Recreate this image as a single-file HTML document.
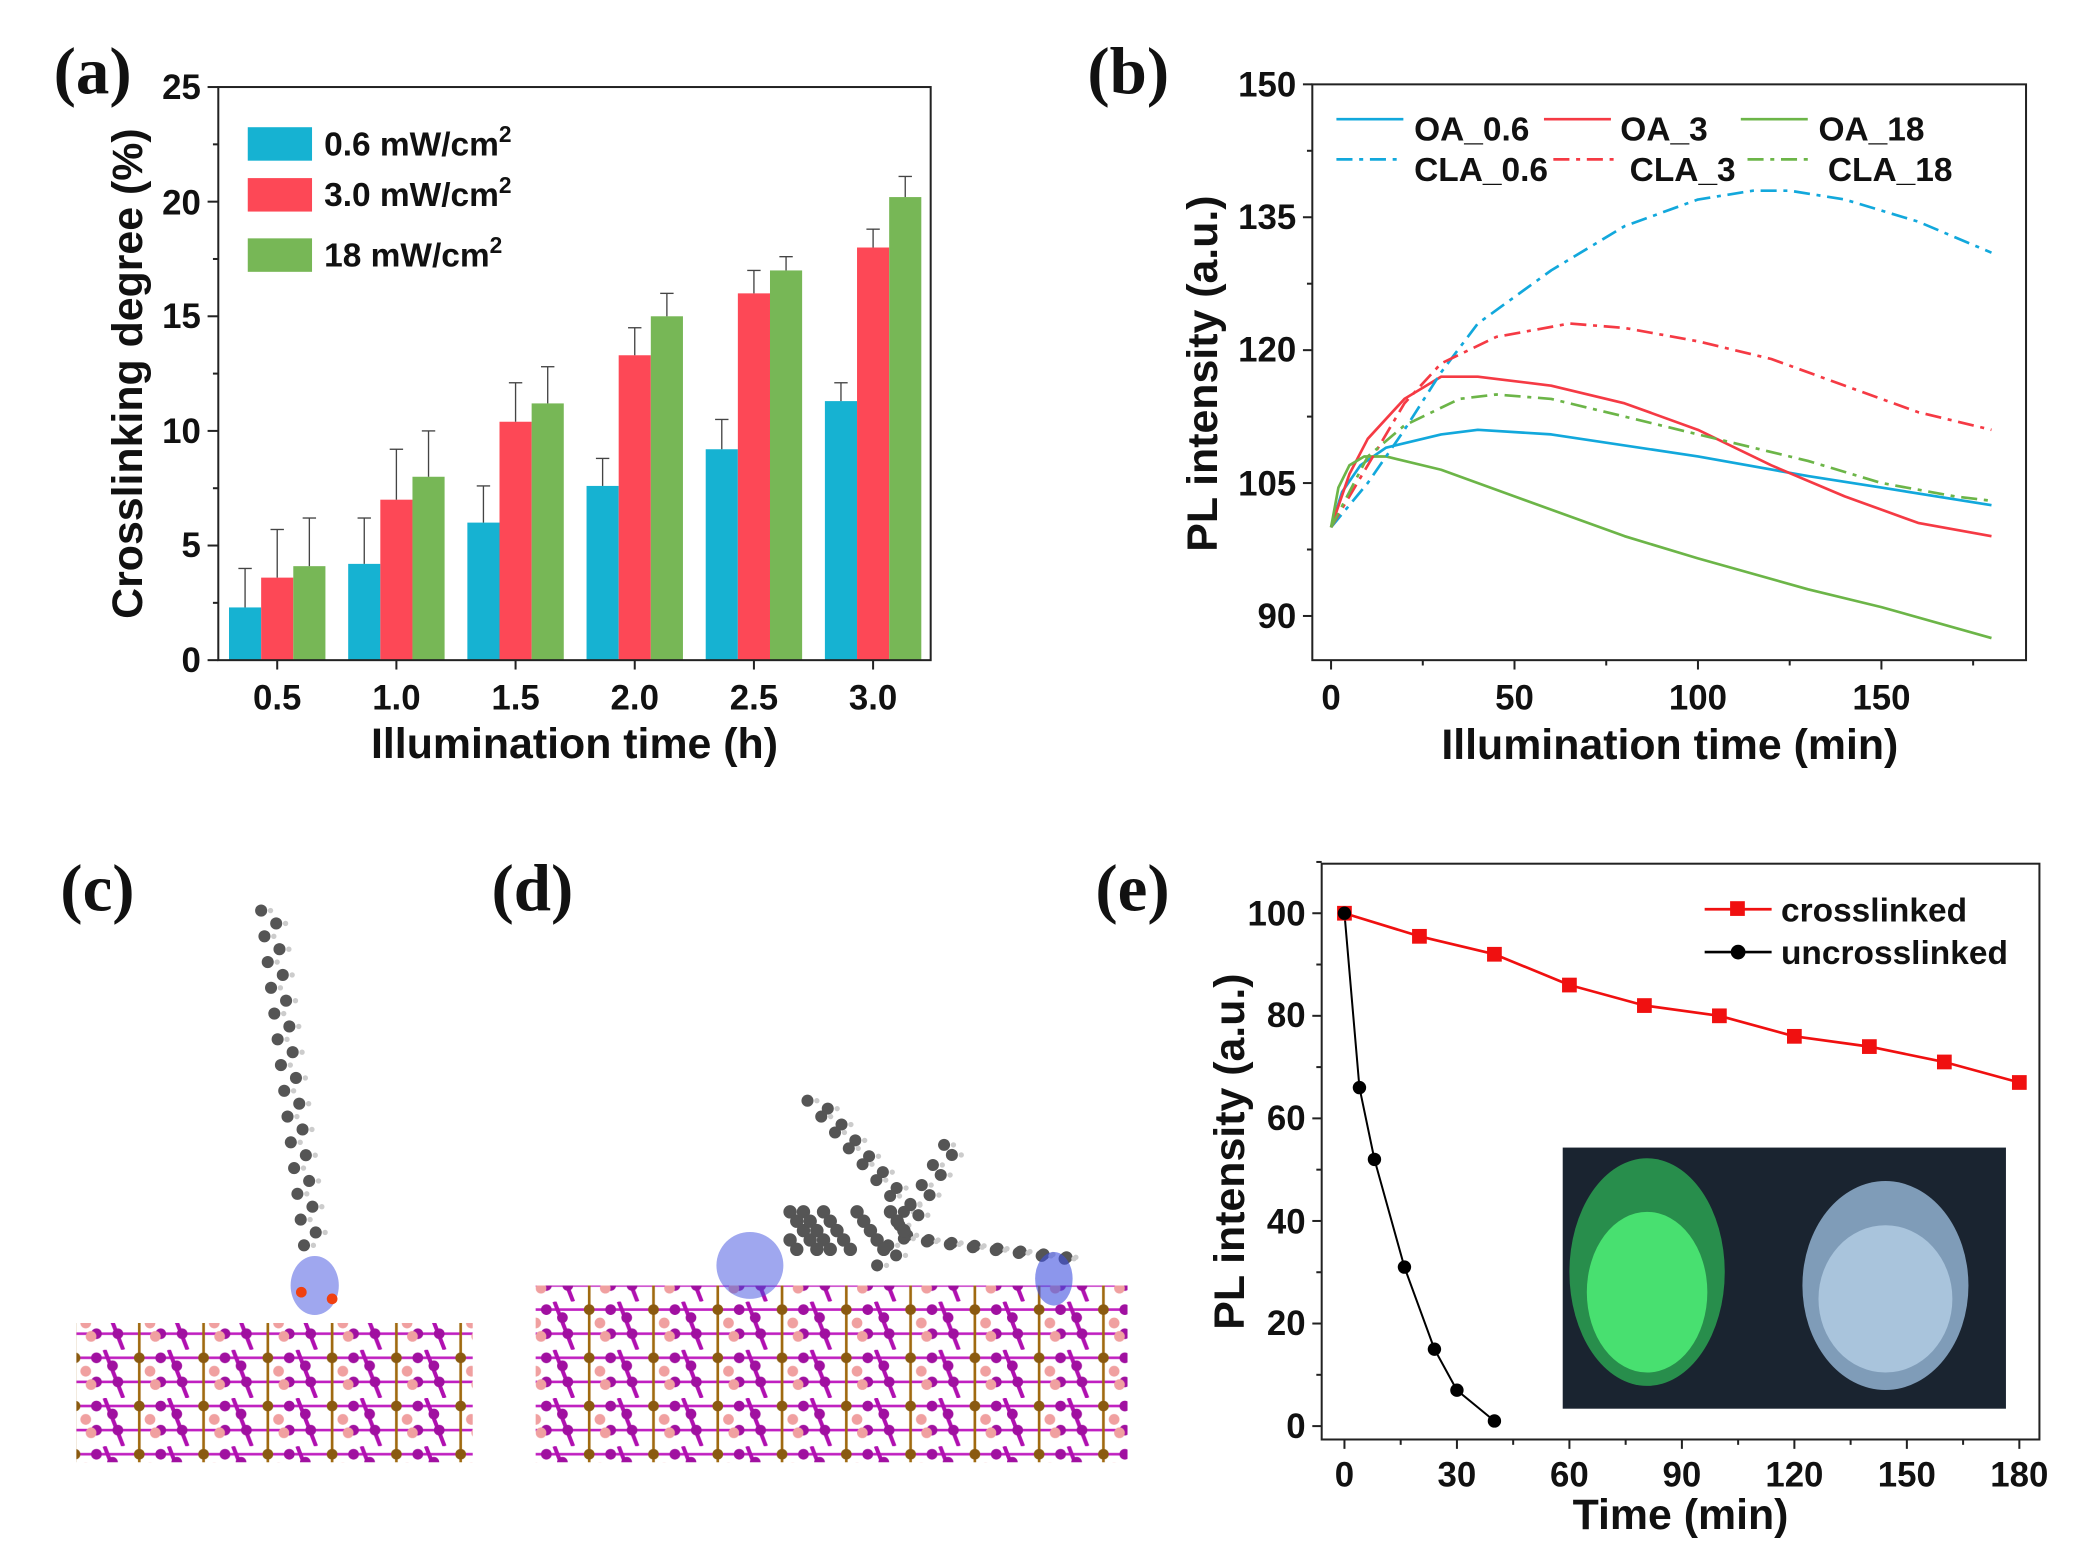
<!DOCTYPE html>
<html><head><meta charset="utf-8"><style>
html,body{margin:0;padding:0;background:#fff}
svg{display:block}
text{font-family:"Liberation Sans",Arial,sans-serif;font-weight:bold;fill:#111}
.pl{font-family:"Liberation Serif",serif;font-size:50px;font-weight:bold}
.tk{font-size:26px}
.al{font-size:32px}
.lg{font-size:25px}
</style></head><body>
<svg id="s" width="2089" height="1558" viewBox="0 0 1560 1163.5" xmlns="http://www.w3.org/2000/svg">
<defs>
<pattern id="lat" x="0" y="0" width="48" height="36" patternUnits="userSpaceOnUse">
<rect width="48" height="36" fill="#fff"/>
<line x1="0" y1="6" x2="48" y2="6" stroke="#c020c0" stroke-width="2"/>
<line x1="0" y1="24" x2="48" y2="24" stroke="#c020c0" stroke-width="2"/>
<line x1="8" y1="0" x2="8" y2="36" stroke="#a06a10" stroke-width="2"/>
<line x1="30" y1="0" x2="44" y2="36" stroke="#b010b0" stroke-width="3"/>
<circle cx="8" cy="6" r="4" fill="#8a5a10"/>
<circle cx="24" cy="6" r="4" fill="#a010a0"/>
<circle cx="40" cy="24" r="4" fill="#a010a0"/>
<circle cx="24" cy="24" r="4" fill="#a010a0"/>
<circle cx="16" cy="16" r="4" fill="#f0a0a0"/>
<circle cx="20" cy="26" r="4" fill="#f0a0a0"/>
<circle cx="36" cy="12" r="4" fill="#a010a0"/>
</pattern>
</defs>

<text class="pl" x="40" y="70">(a)</text>
<text class="pl" x="812" y="70">(b)</text>
<text class="pl" x="45" y="680">(c)</text>
<text class="pl" x="367" y="680">(d)</text>
<text class="pl" x="818" y="680">(e)</text>

<!-- (a) -->
<g id="ga"></g>
<rect x="163" y="65" width="532" height="428" fill="none" stroke="#222" stroke-width="1.5"/>
<g class="tk" text-anchor="end">
<text x="150" y="502">0</text><text x="150" y="416">5</text><text x="150" y="331">10</text>
<text x="150" y="245">15</text><text x="150" y="160">20</text><text x="150" y="74">25</text>
</g>
<g class="tk" text-anchor="middle">
<text x="207" y="530">0.5</text><text x="296" y="530">1.0</text><text x="385" y="530">1.5</text>
<text x="474" y="530">2.0</text><text x="563" y="530">2.5</text><text x="652" y="530">3.0</text>
</g>
<text class="al" x="429" y="566" text-anchor="middle">Illumination time (h)</text>
<text class="al" transform="translate(106,279) rotate(-90)" text-anchor="middle">Crosslinking degree (%)</text>
<rect x="185" y="95" width="48" height="25" fill="#16b2d2"/>
<rect x="185" y="133" width="48" height="25" fill="#fd4856"/>
<rect x="185" y="178" width="48" height="25" fill="#77b756"/>
<g class="lg">
<text x="242" y="116">0.6 mW/cm<tspan dy="-10" font-size="17">2</tspan></text>
<text x="242" y="154">3.0 mW/cm<tspan dy="-10" font-size="17">2</tspan></text>
<text x="242" y="199">18  mW/cm<tspan dy="-10" font-size="17">2</tspan></text>
</g>

<!-- (b) -->
<g id="gb"></g>
<rect x="980" y="63" width="533" height="430" fill="none" stroke="#222" stroke-width="1.5"/>
<g class="tk" text-anchor="end">
<text x="968" y="72">150</text><text x="968" y="171">135</text><text x="968" y="270">120</text>
<text x="968" y="370">105</text><text x="968" y="469">90</text>
</g>
<g class="tk" text-anchor="middle">
<text x="994" y="530">0</text><text x="1131" y="530">50</text><text x="1268" y="530">100</text><text x="1405" y="530">150</text>
</g>
<text class="al" x="1247" y="567" text-anchor="middle">Illumination time (min)</text>
<text class="al" transform="translate(909,279) rotate(-90)" text-anchor="middle">PL intensity (a.u.)</text>
<g class="lg">
<text x="1056" y="105">OA_0.6</text><text x="1210" y="105">OA_3</text><text x="1358" y="105">OA_18</text>
<text x="1056" y="135">CLA_0.6</text><text x="1217" y="135">CLA_3</text><text x="1365" y="135">CLA_18</text>
</g>

<!-- (e) -->
<rect x="1167" y="857" width="331" height="195" fill="#1a2430"/>
<ellipse cx="1230" cy="950" rx="58" ry="85" fill="#2a9a50" opacity="0.9"/>
<ellipse cx="1230" cy="965" rx="45" ry="60" fill="#48e070"/>
<ellipse cx="1408" cy="960" rx="62" ry="78" fill="#7f9cb8"/>
<ellipse cx="1408" cy="970" rx="50" ry="55" fill="#a9c4dc"/>
<g id="ge"></g>
<rect x="987" y="645" width="536" height="430" fill="none" stroke="#222" stroke-width="1.5"/>
<g class="tk" text-anchor="end">
<text x="975" y="1074">0</text><text x="975" y="997">20</text><text x="975" y="921">40</text>
<text x="975" y="844">60</text><text x="975" y="767">80</text><text x="975" y="691">100</text>
</g>
<g class="tk" text-anchor="middle">
<text x="1004" y="1110">0</text><text x="1088" y="1110">30</text><text x="1172" y="1110">60</text>
<text x="1256" y="1110">90</text><text x="1340" y="1110">120</text><text x="1424" y="1110">150</text><text x="1508" y="1110">180</text>
</g>
<text class="al" x="1255" y="1142" text-anchor="middle">Time (min)</text>
<text class="al" transform="translate(929,860) rotate(-90)" text-anchor="middle">PL intensity (a.u.)</text>
<line x1="1273" y1="679" x2="1323" y2="679" stroke="#f01010" stroke-width="2"/>
<rect x="1292" y="673" width="11" height="11" fill="#f01010"/>
<line x1="1273" y1="711" x2="1323" y2="711" stroke="#000" stroke-width="2"/>
<circle cx="1298" cy="711" r="5.5" fill="#000"/>
<g class="lg"><text x="1330" y="688">crosslinked</text><text x="1330" y="720">uncrosslinked</text></g>

<!-- (c) -->
<rect x="57" y="988" width="296" height="104" fill="url(#lat)"/>
<g id="gc"></g>
<!-- (d) -->
<rect x="400" y="960" width="442" height="132" fill="url(#lat)"/>
<g id="gd"></g>
</svg>
<script>
var NS="http://www.w3.org/2000/svg";
function el(g,t,a){var e=document.createElementNS(NS,t);for(var k in a)e.setAttribute(k,a[k]);document.getElementById(g).appendChild(e);return e;}
var B=[2.3,4.2,6.0,7.6,9.2,11.3],R=[3.6,7.0,10.4,13.3,16.0,18.0],G=[4.1,8.0,11.2,15.0,17.0,20.2];
var BE=[4.0,6.2,7.6,8.8,10.5,12.1],RE=[5.7,9.2,12.1,14.5,17.0,18.8],GE=[6.2,10.0,12.8,16.0,17.6,21.1];
function ya(v){return 493-v*17.12;}
var cols=["#16b2d2","#fd4856","#77b756"],vals=[B,R,G],errs=[BE,RE,GE];
for(var i=0;i<6;i++){var c=207+89*i;for(var j=0;j<3;j++){var x=c-36+24*j;
el("ga","rect",{x:x,y:ya(vals[j][i]),width:24,height:493-ya(vals[j][i]),fill:cols[j]});
var xc=x+12;el("ga","line",{x1:xc,y1:ya(vals[j][i]),x2:xc,y2:ya(errs[j][i]),stroke:"#444","stroke-width":1});
el("ga","line",{x1:xc-5,y1:ya(errs[j][i]),x2:xc+5,y2:ya(errs[j][i]),stroke:"#444","stroke-width":1});}
el("ga","line",{x1:c,y1:493,x2:c,y2:500,stroke:"#222","stroke-width":1.5});}
for(var v=0;v<=25;v+=2.5){el("ga","line",{x1:163,y1:ya(v),x2:v%5==0?155:159,y2:ya(v),stroke:"#222","stroke-width":1.5});}
function xb(t){return 994+t*2.74;}function yb(v){return 460-(v-90)*6.617;}
function path(g,pts,fx,fy,col,dash,w){var d="";pts.forEach(function(p,k){d+=(k?"L":"M")+fx(p[0]).toFixed(1)+" "+fy(p[1]).toFixed(1)});var a={d:d,fill:"none",stroke:col,"stroke-width":w||2,"stroke-linejoin":"round"};if(dash)a["stroke-dasharray"]=dash;return el(g,"path",a);}
var dd="12 5 3 5";
path("gb",[[0,100],[3,104],[8,107],[15,109],[30,110.5],[40,111],[60,110.5],[100,108],[130,105.8],[150,104.5],[180,102.5]],xb,yb,"#12a8dc");
path("gb",[[0,100],[5,106],[10,110],[20,114.5],[30,117],[40,117],[60,116],[80,114],[100,111],[120,107],[140,103.5],[150,102],[160,100.5],[180,99]],xb,yb,"#f53a44");
path("gb",[[0,100],[2,104.5],[5,107],[9,108],[15,108],[30,106.5],[50,103.5],[80,99],[100,96.5],[130,93],[150,91],[180,87.5]],xb,yb,"#6cb548");
path("gb",[[0,100],[10,105],[20,111],[30,117.5],[40,123],[60,129],[80,134],[100,137],[115,138],[125,138],[140,137],[160,134.5],[180,131]],xb,yb,"#12a8dc",dd);
path("gb",[[0,100],[10,107],[20,114],[30,118.5],[45,121.5],[65,123],[80,122.5],[100,121],[120,119],[140,116],[160,113],[180,111]],xb,yb,"#f53a44",dd);
path("gb",[[0,100],[10,108],[20,111.5],[35,114.5],[45,115],[60,114.5],[80,112.5],[100,110.5],[130,107.5],[150,105],[170,103.5],[180,103]],xb,yb,"#6cb548",dd);
for(var t=0;t<=175;t+=25)el("gb","line",{x1:xb(t),y1:493,x2:xb(t),y2:t%50==0?500:497,stroke:"#222","stroke-width":1.5});
for(var v=82.5;v<=150;v+=7.5)if(yb(v)<=493)el("gb","line",{x1:980,y1:yb(v),x2:(v%15==0)?973:976,y2:yb(v),stroke:"#222","stroke-width":1.5});
[[998,96,"#12a8dc",0],[1153,96,"#f53a44",0],[1300,96,"#6cb548",0],[998,126,"#12a8dc",1],[1160,126,"#f53a44",1],[1305,126,"#6cb548",1]].forEach(function(l){var a={x1:l[0],y1:l[1]-7,x2:l[0]+50,y2:l[1]-7,stroke:l[2],"stroke-width":2};if(l[3])a["stroke-dasharray"]=dd;el("gb","line",a);});
function xe(t){return 1004+t*2.8;}function ye(v){return 1065-v*3.83;}
var cr=[[0,100],[20,95.5],[40,92],[60,86],[80,82],[100,80],[120,76],[140,74],[160,71],[180,67]];
var un=[[0,100],[4,66],[8,52],[16,31],[24,15],[30,7],[40,1]];
path("ge",cr,xe,ye,"#f01010",null,2);path("ge",un,xe,ye,"#000",null,1.5);
cr.forEach(function(p){el("ge","rect",{x:xe(p[0])-5.5,y:ye(p[1])-5.5,width:11,height:11,fill:"#f01010"});});
un.forEach(function(p){el("ge","circle",{cx:xe(p[0]),cy:ye(p[1]),r:5,fill:"#000"});});
for(var t=0;t<=180;t+=15)el("ge","line",{x1:xe(t),y1:1075,x2:xe(t),y2:t%30==0?1082:1079,stroke:"#222","stroke-width":1.5});
for(var v=0;v<=110;v+=10)el("ge","line",{x1:987,y1:ye(v),x2:v%20==0?980:983,y2:ye(v),stroke:"#222","stroke-width":1.5});
function chain(g,x0,y0,x1,y1,n){for(var k=0;k<=n;k++){var f=k/n,x=x0+(x1-x0)*f+((k%2)?5:-5),y=y0+(y1-y0)*f;
el(g,"circle",{cx:x+7,cy:y,r:2,fill:"#ccc"});el(g,"circle",{cx:x,cy:y,r:4.5,fill:"#555"});}}
chain("gc",200,680,232,930,26);
el("gc","ellipse",{cx:235,cy:960,rx:18,ry:22,fill:"#4050e0",opacity:0.5});
el("gc","circle",{cx:225,cy:965,r:4,fill:"#f04010"});el("gc","circle",{cx:248,cy:970,r:4,fill:"#f04010"});
chain("gd",608,822,680,905,14);chain("gd",710,855,660,945,12);chain("gd",680,925,800,940,14);
el("gd","ellipse",{cx:560,cy:945,rx:25,ry:25,fill:"#4050e0",opacity:0.5});
el("gd","ellipse",{cx:787,cy:955,rx:14,ry:20,fill:"#4050e0",opacity:0.6});
for(var k=0;k<25;k++)el("gd","circle",{cx:590+k*5%90,cy:905+(k*7)%35,r:5,fill:"#555"});
</script>
</body></html>
